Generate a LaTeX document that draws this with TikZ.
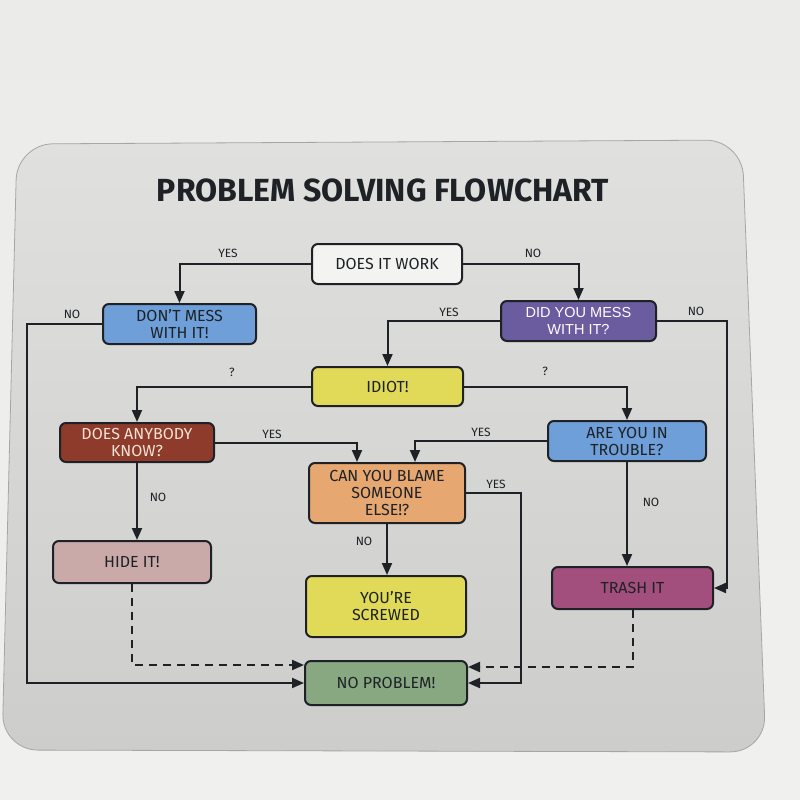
\documentclass[tikz,border=0pt]{standalone}
\usepackage{fontspec}
\setmainfont{Fira Sans}
\newfontfamily\arialfont{Liberation Sans}
\usetikzlibrary{arrows.meta}
\definecolor{bgc}{HTML}{EBEBE9}
\definecolor{bgbot}{HTML}{F0F0EF}
\definecolor{padtop}{HTML}{E0E0DF}
\definecolor{padbot}{HTML}{CDCDCC}
\definecolor{inkc}{HTML}{1E2226}
\definecolor{cwhite}{HTML}{F3F3F1}
\definecolor{cblue}{HTML}{6E9FD9}
\definecolor{cpurple}{HTML}{6B5B9F}
\definecolor{cyellow}{HTML}{E0DA58}
\definecolor{cbrown}{HTML}{8E3B2B}
\definecolor{corange}{HTML}{E6A870}
\definecolor{cmauve}{HTML}{C9AAA9}
\definecolor{cmagenta}{HTML}{A24F7E}
\definecolor{cgreen}{HTML}{88A882}
\definecolor{ccream}{HTML}{F2E4D6}
\tikzset{
  box/.style={draw=inkc, line width=2pt, rounded corners=6pt, align=center,
    inner sep=0pt, text=inkc, font=\fontsize{16}{17}\selectfont\mdseries},
  arr/.style={draw=inkc, line width=2pt, -{Triangle[length=12pt,width=10pt]}},
  dasharr/.style={arr, dash pattern=on 8pt off 6pt},
  lbl/.style={text=inkc, font=\fontsize{12}{13}\selectfont, inner sep=1pt}
}
\begin{document}
\begin{tikzpicture}[x=1pt,y=-1pt]
\useasboundingbox (0,0) rectangle (800,800);
\shade[top color=bgc, bottom color=bgbot] (0,0) rectangle (800,800);
% mousepad
\shade[top color=padtop, bottom color=padbot, draw=gray!70, line width=0.8pt, rounded corners=36pt]
  (17,144) -- (742,140) -- (766,752) -- (2,750) -- cycle;
% title
\node (title) at (383,190) {\fontsize{32}{34}\selectfont\bfseries\color{inkc}PROBLEM SOLVING FLOWCHART};
% helper coordinates
\coordinate (lx) at (27,0);
\coordinate (rx) at (727,0);
\coordinate (bx) at (521,0);
% nodes
\node[box, fill=cwhite, minimum width=150pt, minimum height=40pt] (work) at (387,264) {DOES IT WORK};
\node[box, fill=cblue, minimum width=153pt, minimum height=40pt] (dont) at (179.5,324) {DON'T MESS\\WITH IT!};
\node[box, fill=cpurple, minimum width=155pt, minimum height=40pt, text=white, font=\arialfont\fontsize{14.5}{16.5}\selectfont] (mess) at (578.5,321) {DID YOU MESS\\WITH IT?};
\node[box, fill=cyellow, minimum width=151pt, minimum height=39pt] (idiot) at (387.5,386.5) {IDIOT!};
\node[box, fill=cbrown, minimum width=154pt, minimum height=39pt, text=ccream] (anybody) at (137,442.5) {DOES ANYBODY\\KNOW?};
\node[box, fill=cblue, minimum width=158pt, minimum height=40pt] (trouble) at (627,441) {ARE YOU IN\\TROUBLE?};
\node[box, fill=corange, minimum width=156pt, minimum height=60pt] (blame) at (387,493) {CAN YOU BLAME\\SOMEONE\\ELSE!?};
\node[box, fill=cmauve, minimum width=158pt, minimum height=42pt] (hide) at (132,562) {HIDE IT!};
\node[box, fill=cyellow, minimum width=160pt, minimum height=61pt] (screwed) at (386,606.5) {YOU'RE\\SCREWED};
\node[box, fill=cmagenta, minimum width=161pt, minimum height=42pt] (trash) at (632.5,588) {TRASH IT};
\node[box, fill=cgreen, minimum width=162pt, minimum height=44pt] (noprob) at (386,683) {NO PROBLEM!};
% connectors
\draw[arr] (work.west) -| (dont.north);
\draw[arr] (work.east) -| (mess.north);
\draw[arr] (mess.west) -| (idiot.north);
\draw[arr] (mess.east) -- (mess.east -| rx) |- (trash.east);
\draw[arr] (dont.west) -- (dont.west -| lx) |- (noprob.west);
\draw[arr] (idiot.west) -| (anybody.north);
\draw[arr] (idiot.east) -| (trouble.north);
\draw[arr] (anybody.east) -| ([xshift=-30pt]blame.north);
\draw[arr] (trouble.west) -| ([xshift=28pt]blame.north);
\draw[arr] (anybody.south) -- (anybody.south |- hide.north);
\draw[arr] (trouble.south) -- (trouble.south |- trash.north);
\draw[arr] (blame.south) -- (blame.south |- screwed.north);
\draw[arr] (blame.east) -- (blame.east -| bx) |- (noprob.east);
\draw[dasharr] (hide.south) |- ([yshift=18pt]noprob.west);
\draw[dasharr] (trash.south) |- ([yshift=16pt]noprob.east);
% labels
\node[lbl] (l1) at (228,253) {YES};
\node[lbl] (l2) at (533,253) {NO};
\node[lbl] (l3) at (449,312) {YES};
\node[lbl] (l4) at (696,311) {NO};
\node[lbl] (l5) at (72,314) {NO};
\node[lbl] (l6) at (232,372) {?};
\node[lbl] (l7) at (545,371) {?};
\node[lbl] (l8) at (272,434) {YES};
\node[lbl] (l9) at (481,432) {YES};
\node[lbl] (l10) at (158,497) {NO};
\node[lbl] (l11) at (651,502) {NO};
\node[lbl] (l12) at (496,484) {YES};
\node[lbl] (l13) at (364,541) {NO};
\end{tikzpicture}
\end{document}
